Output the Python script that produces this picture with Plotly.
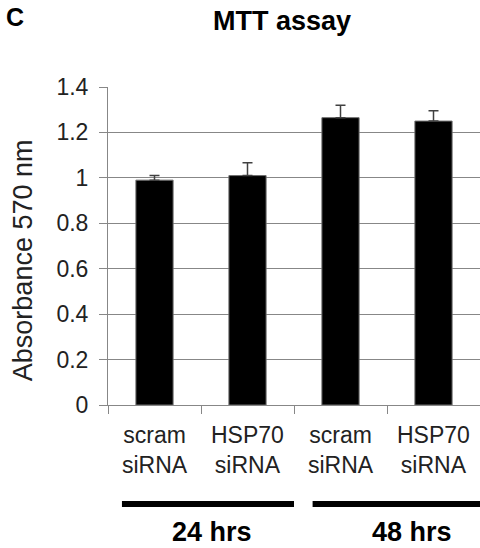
import plotly.graph_objects as go

# MTT assay readings (absorbance at 570 nm) with upper SD
label_top = ["scram", "HSP70", "scram", "HSP70"]
label_bottom = ["siRNA", "siRNA", "siRNA", "siRNA"]
positions = [0, 1, 2, 3]
absorbance = [0.99, 1.01, 1.265, 1.25]
sd = [0.02, 0.057, 0.055, 0.045]
y_ticks = [0, 0.2, 0.4, 0.6, 0.8, 1, 1.2, 1.4]
y_tick_text = ["0", "0.2", "0.4", "0.6", "0.8", "1", "1.2", "1.4"]

# Time-point groups: label, span under the categories, label position
groups = ["24 hrs", "48 hrs"]
group_spans = [(-0.35, 1.5), (1.7, 3.6)]
group_label_x = [0.62, 2.77]

FONT = "Liberation Sans, Arial, sans-serif"
GRID = "#878787"
TEXT = "#222222"

fig = go.Figure()
fig.add_trace(go.Bar(
    x=positions,
    y=absorbance,
    width=0.4,
    marker=dict(color="black", line=dict(color="#6e6e6e", width=1)),
    error_y=dict(type="data", array=sd, arrayminus=[0] * len(sd), symmetric=False,
                 color="#404040", thickness=1.5, width=5),
))

fig.update_layout(
    width=480, height=548,
    margin=dict(l=108, r=0, t=87, b=143),
    paper_bgcolor="white", plot_bgcolor="white",
    showlegend=False,
    font=dict(family=FONT, color="black"),
)
fig.update_yaxes(
    range=[0, 1.4],
    tickvals=y_ticks, ticktext=y_tick_text,
    showgrid=True, gridcolor=GRID, gridwidth=1,
    showline=True, linecolor=GRID, linewidth=1,
    ticks="outside", ticklen=8, tickcolor=GRID,
    tickfont=dict(size=23, color=TEXT, family=FONT),
    ticklabelstandoff=6,
    zeroline=False,
)
# Category separators as ticks on the boundaries
fig.update_xaxes(
    type="linear", range=[-0.5, 3.5],
    tickvals=[p - 0.5 for p in positions] + [positions[-1] + 0.5],
    showticklabels=False,
    showline=True, linecolor=GRID, linewidth=1,
    ticks="outside", ticklen=8, tickcolor=GRID,
    showgrid=False, zeroline=False,
)

# Two-line category labels
for p, top, bottom in zip(positions, label_top, label_bottom):
    fig.add_annotation(text=f"{top}<br>{bottom}", xref="x", yref="paper",
                       x=p, y=-0.1415, xanchor="center", yanchor="middle",
                       showarrow=False,
                       font=dict(size=23, color=TEXT, family=FONT))

# Axis title
fig.add_annotation(text="Absorbance 570 nm", textangle=-90,
                   xref="paper", yref="paper", x=-0.228, y=0.456,
                   xanchor="center", yanchor="middle", showarrow=False,
                   font=dict(size=27, color=TEXT, family=FONT))

# Chart title and panel letter
fig.add_annotation(text="<b>MTT assay</b>", xref="paper", yref="paper",
                   x=0.469, y=1.206, xanchor="center", yanchor="middle",
                   showarrow=False, font=dict(size=27, family=FONT))
fig.add_annotation(text="<b>C</b>", xref="paper", yref="paper",
                   x=-0.28, y=1.272, xanchor="left", yanchor="top",
                   showarrow=False, font=dict(size=25, family=FONT))

# Group bars and labels under the axis
for name, (x0, x1), lx in zip(groups, group_spans, group_label_x):
    fig.add_shape(type="line", xref="x", yref="paper", x0=x0, x1=x1,
                  y0=-0.311, y1=-0.311, line=dict(color="black", width=6))
    fig.add_annotation(text=f"<b>{name}</b>", xref="x", yref="paper",
                       x=lx, y=-0.40, xanchor="center", yanchor="middle",
                       showarrow=False, font=dict(size=27, family=FONT))

fig.write_html("out.html")
